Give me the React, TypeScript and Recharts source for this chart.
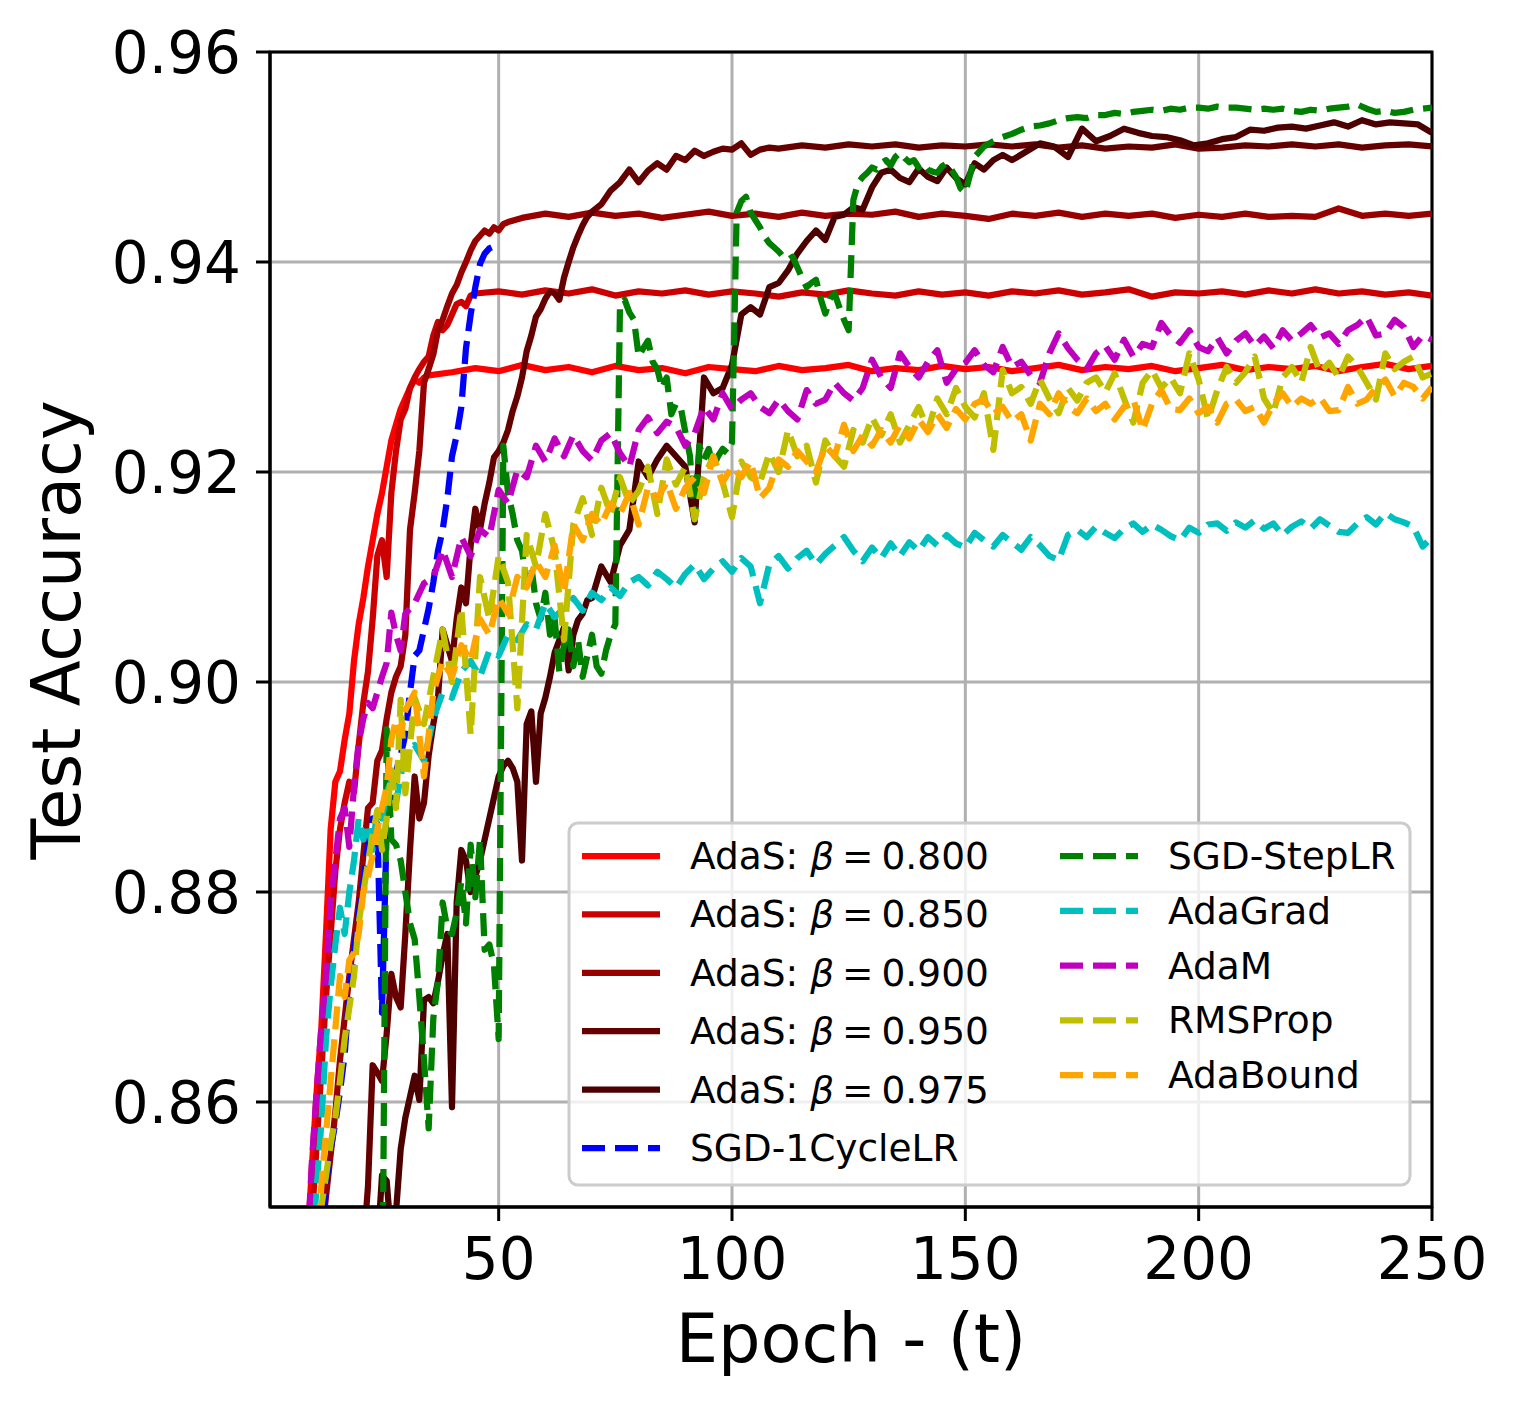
import React from "react";
import { LineChart, Line, XAxis, YAxis, CartesianGrid, ReferenceArea } from "recharts";

const FONT = "DejaVu Sans";

const X_TICKS = [50, 100, 150, 200, 250];
const Y_TICKS = [0.86, 0.88, 0.9, 0.92, 0.94, 0.96];

// AdaS beta=0.800: epochs 9..35, then 40..250 every 5
const ADAS_800_RISE = [
  0.846, 0.854, 0.861, 0.867, 0.876, 0.886, 0.8905, 0.8915, 0.8945, 0.897,
  0.902, 0.9055, 0.908, 0.911, 0.9135, 0.916, 0.918, 0.9205, 0.923, 0.9245,
  0.926, 0.927, 0.928, 0.9288, 0.9285, 0.929, 0.9292,
];
const ADAS_800_FLAT = [
  0.9295, 0.9299, 0.9296, 0.9302, 0.9297, 0.93, 0.9295, 0.9301, 0.9297, 0.9299,
  0.9294, 0.93, 0.9298, 0.9296, 0.9301, 0.9297, 0.9299, 0.9302, 0.9296, 0.9299,
  0.9297, 0.9301, 0.9298, 0.93, 0.9296, 0.9299, 0.9302, 0.9297, 0.93, 0.9298,
  0.9301, 0.9296, 0.9299, 0.9302, 0.9297, 0.93, 0.9298, 0.9301, 0.9296, 0.93,
  0.9303, 0.9298, 0.9301,
];

// AdaS beta=0.850: epochs 10..45, then 50..250 every 5
const ADAS_850_RISE = [
  0.849, 0.856, 0.863, 0.87, 0.876, 0.882, 0.886, 0.8885, 0.8905, 0.8895,
  0.894, 0.898, 0.901, 0.906, 0.912, 0.9135, 0.91, 0.918, 0.922, 0.925,
  0.926, 0.928, 0.929, 0.9298, 0.9305, 0.931, 0.933, 0.9343, 0.9335, 0.934,
  0.935, 0.936, 0.9362, 0.9358, 0.9368, 0.937,
];
const ADAS_850_FLAT = [
  0.9372, 0.9369, 0.9373, 0.937, 0.9374, 0.9368, 0.9372, 0.937, 0.9373, 0.9369,
  0.9372, 0.937, 0.9367, 0.9371, 0.9369, 0.9373, 0.937, 0.9368, 0.9372, 0.9369,
  0.9371, 0.9368, 0.9372, 0.937, 0.9373, 0.9369, 0.9371, 0.9374, 0.9367, 0.9371,
  0.937, 0.9372, 0.9369, 0.9373, 0.937, 0.9374, 0.937, 0.9372, 0.9369, 0.9371,
  0.9368,
];

// AdaS beta=0.900: epochs 12..52, then 55..250 every 5
const ADAS_900_RISE = [
  0.847, 0.851, 0.855, 0.859, 0.864, 0.868, 0.872, 0.8755, 0.879, 0.8835,
  0.888, 0.8885, 0.8925, 0.8935, 0.8965, 0.899, 0.9005, 0.9015, 0.9045, 0.9145,
  0.918, 0.922, 0.9285, 0.9298, 0.9312, 0.9335, 0.9345, 0.9358, 0.937, 0.9378,
  0.939, 0.94, 0.9411, 0.942, 0.9425, 0.943, 0.9427, 0.9433, 0.943, 0.9436,
  0.9438,
];
const ADAS_900_FLAT = [
  0.9442, 0.9446, 0.9443, 0.9447, 0.9444, 0.9446, 0.9442, 0.9445, 0.9448, 0.9444,
  0.9446, 0.9443, 0.9447, 0.9444, 0.9446, 0.9445, 0.9448, 0.9443, 0.9446, 0.9444,
  0.9441, 0.9446, 0.9444, 0.9447, 0.9443, 0.9446, 0.9444, 0.9446, 0.9442, 0.9445,
  0.9443, 0.9446, 0.9443, 0.9444, 0.9443, 0.9451, 0.9444, 0.9446, 0.9444, 0.9446,
];

// AdaS beta=0.950: epochs 21..70, 72..108 every 2, 110..250 every 5
const ADAS_950_RISE = [
  0.846, 0.852, 0.8635, 0.8628, 0.862, 0.8665, 0.8722, 0.87, 0.869, 0.876,
  0.884, 0.891, 0.887, 0.8885, 0.893, 0.896, 0.8985, 0.905, 0.9035, 0.902,
  0.906, 0.909, 0.9075, 0.913, 0.9165, 0.9145, 0.917, 0.919, 0.9214, 0.922,
  0.9228, 0.924, 0.9258, 0.9272, 0.929, 0.9315, 0.933, 0.9348, 0.9355, 0.9365,
  0.9372, 0.937, 0.9364, 0.9385, 0.94, 0.9414, 0.9425, 0.9435, 0.9443, 0.9448,
];
const ADAS_950_MID = [
  0.9455, 0.9468, 0.9476, 0.9488, 0.9476, 0.9487, 0.9494, 0.9488, 0.9501, 0.9497,
  0.9506, 0.9501, 0.9505, 0.9508, 0.9507, 0.9513, 0.9502, 0.9507, 0.9509,
];
const ADAS_950_FLAT = [
  0.9508, 0.9511, 0.9509, 0.9512, 0.951, 0.9512, 0.9509, 0.9511, 0.951, 0.9512,
  0.951, 0.9512, 0.9509, 0.9511, 0.9508, 0.951, 0.9509, 0.9512, 0.9508, 0.9509,
  0.9511, 0.951, 0.9512, 0.951, 0.9512, 0.9509, 0.9511, 0.9512, 0.951,
];

// AdaS beta=0.975: epochs 24..70, 72..160 every 2, 163..250 every 3
const ADAS_975_RISE = [
  0.846, 0.853, 0.8525, 0.847, 0.8495, 0.8555, 0.8585, 0.8605, 0.8625, 0.8602,
  0.8697, 0.87, 0.8694, 0.8715, 0.874, 0.876, 0.8595, 0.879, 0.884, 0.883,
  0.88, 0.8815, 0.883, 0.885, 0.887, 0.889, 0.891, 0.892, 0.8925, 0.8918,
  0.8905, 0.883, 0.896, 0.8972, 0.8905, 0.897, 0.8985, 0.9005, 0.9028, 0.904,
  0.9052, 0.9011, 0.9045, 0.9059, 0.9065, 0.9078, 0.908,
];
const ADAS_975_MID = [
  0.911, 0.9095, 0.913, 0.9145, 0.921, 0.9195, 0.9212, 0.9225, 0.9215, 0.9205,
  0.9152, 0.929, 0.9275, 0.928, 0.9302, 0.935, 0.9357, 0.935, 0.9376, 0.938,
  0.9392, 0.9408, 0.942, 0.943, 0.9421, 0.9443, 0.9445, 0.9452, 0.945, 0.9471,
  0.9485, 0.9488, 0.948, 0.9476, 0.9489, 0.9481, 0.9477, 0.949, 0.948, 0.9474,
  0.9494, 0.9488, 0.9497, 0.9502, 0.9497,
];
const ADAS_975_LATE = [
  0.9505, 0.9513, 0.951, 0.95, 0.9527, 0.9515, 0.952, 0.9527, 0.9523, 0.952,
  0.9519, 0.9516, 0.9511, 0.9513, 0.9517, 0.9519, 0.9526, 0.9525, 0.9528, 0.9529,
  0.9527, 0.953, 0.9533, 0.9529, 0.9535, 0.9531, 0.9533, 0.9532, 0.9531, 0.9523,
];

// SGD-1CycleLR: epochs 12..50
const SGD_1CYCLE = [
  0.846, 0.852, 0.8555, 0.858, 0.861, 0.8645, 0.8705, 0.8745, 0.878, 0.881,
  0.8845, 0.887, 0.8865, 0.8685, 0.886, 0.889, 0.8915, 0.893, 0.895, 0.899,
  0.9025, 0.903, 0.905, 0.907, 0.9095, 0.9125, 0.9145, 0.9175, 0.9215, 0.9235,
  0.9262, 0.9318, 0.935, 0.9376, 0.9398, 0.9408, 0.9413, 0.9415, 0.9413,
];

// SGD-StepLR: five 25-epoch stages at every epoch, then 152..250 every 2
const STEP_S1 = [
  0.82, 0.835, 0.8955, 0.885, 0.8845, 0.883, 0.88, 0.877, 0.8755, 0.87,
  0.864, 0.8575, 0.868, 0.8715, 0.879, 0.8765, 0.876, 0.878, 0.881, 0.877,
  0.8845, 0.8795, 0.885, 0.8745, 0.875, 0.873, 0.866,
]; // 24..50
const STEP_S2 = [
  0.9225, 0.918, 0.916, 0.9135, 0.9125, 0.9095, 0.911, 0.9075, 0.906, 0.9085,
  0.9045, 0.906, 0.901, 0.9035, 0.905, 0.9015, 0.904, 0.9005, 0.9025, 0.9045,
  0.9015, 0.9008, 0.903, 0.9045, 0.9055,
]; // 51..75
const STEP_S3 = [
  0.936, 0.9364, 0.9352, 0.9345, 0.931, 0.9318, 0.9325, 0.9305, 0.9298, 0.928,
  0.929, 0.9255, 0.9265, 0.9262, 0.9238, 0.9215, 0.9155, 0.9225, 0.9212, 0.9222,
  0.9205, 0.9215, 0.9222, 0.9218, 0.9228,
]; // 76..100
const STEP_S4 = [
  0.9447, 0.9458, 0.9462, 0.9447, 0.944, 0.9433, 0.9424, 0.9418, 0.9414, 0.941,
  0.9405, 0.9402, 0.9405, 0.9395, 0.9385, 0.9376, 0.938, 0.9383, 0.9365, 0.9351,
  0.9365, 0.937, 0.9357, 0.9345, 0.9335,
]; // 101..125
const STEP_S5 = [
  0.9459, 0.9475, 0.9481, 0.9485, 0.949, 0.9488, 0.9494, 0.9497, 0.9492, 0.95,
  0.9504, 0.9499, 0.9495, 0.9497, 0.949, 0.9494, 0.9488, 0.9486, 0.9485, 0.9491,
  0.9494, 0.9488, 0.9481, 0.947, 0.9466,
]; // 126..150
const STEP_S6 = [
  0.95, 0.951, 0.9515, 0.9519, 0.9522, 0.9526, 0.9529, 0.953, 0.9532, 0.9535,
  0.9537, 0.9538, 0.9537, 0.954, 0.954, 0.9542, 0.9541, 0.9543, 0.9544, 0.9545,
  0.9544, 0.9546, 0.9545, 0.9547, 0.9547, 0.9546, 0.9548, 0.9547, 0.9547, 0.9546,
  0.9545, 0.9546, 0.9545, 0.9546, 0.9544, 0.9543, 0.9545, 0.9544, 0.9546, 0.9547,
  0.9548, 0.955, 0.9546, 0.9543, 0.9544, 0.9542, 0.9543, 0.9545, 0.9546, 0.9547,
]; // 152..250 every 2

// AdaGrad: epochs 10..30, then 32..250 every 2
const ADAGRAD_EARLY = [
  0.846, 0.852, 0.858, 0.866, 0.871, 0.875, 0.8785, 0.876, 0.88, 0.883,
  0.887, 0.885, 0.8865, 0.884, 0.888, 0.887, 0.8895, 0.8905, 0.8885, 0.891,
  0.8935,
];
const ADAGRAD_LATE = [
  0.894, 0.8925, 0.8965, 0.899, 0.8985, 0.901, 0.902, 0.9005, 0.903, 0.9025,
  0.9045, 0.904, 0.9055, 0.905, 0.9075, 0.9062, 0.907, 0.908, 0.9068, 0.9085,
  0.9078, 0.909, 0.9082, 0.9095, 0.91, 0.9092, 0.9105, 0.9098, 0.909, 0.9103,
  0.9112, 0.9098, 0.9108, 0.9115, 0.9105, 0.9118, 0.911, 0.9075, 0.9112, 0.912,
  0.9108, 0.9118, 0.9125, 0.9112, 0.9122, 0.913, 0.9138, 0.9125, 0.9115, 0.9128,
  0.9118, 0.9132, 0.912, 0.9133, 0.9125, 0.9138, 0.913, 0.914, 0.9132, 0.9128,
  0.9142, 0.9135, 0.9129, 0.914, 0.9133, 0.9126, 0.9138, 0.913, 0.912, 0.9116,
  0.914, 0.9145, 0.9138, 0.9148, 0.9142, 0.9137, 0.9146, 0.9151, 0.9143, 0.915,
  0.9145, 0.9139, 0.9135, 0.9147, 0.9142, 0.915, 0.9151, 0.9144, 0.9152, 0.9147,
  0.9154, 0.9146, 0.9151, 0.914, 0.9148, 0.9153, 0.9146, 0.9155, 0.9149, 0.9143,
  0.9142, 0.9151, 0.9157, 0.915, 0.9161, 0.9155, 0.9152, 0.9148, 0.9129, 0.9138,
];

// AdaM: epochs 9..30, then 32..250 every 2
const ADAM_EARLY = [
  0.846, 0.8545, 0.861, 0.8671, 0.872, 0.879, 0.883, 0.887, 0.888, 0.8843,
  0.89, 0.8942, 0.8965, 0.898, 0.8975, 0.899, 0.9005, 0.9018, 0.9066, 0.9045,
  0.903, 0.9065,
];
const ADAM_LATE = [
  0.9075, 0.9094, 0.91, 0.9126, 0.91, 0.9138, 0.912, 0.9145, 0.9138, 0.9183,
  0.917, 0.9202, 0.9195, 0.9225, 0.921, 0.9232, 0.9215, 0.9235, 0.922, 0.9211,
  0.923, 0.9237, 0.9218, 0.9205, 0.924, 0.9252, 0.9237, 0.9248, 0.9243, 0.9225,
  0.9237, 0.9262, 0.925, 0.9275, 0.926, 0.9269, 0.9275, 0.9262, 0.9256, 0.9269,
  0.9258, 0.925, 0.9278, 0.9265, 0.9269, 0.9285, 0.9275, 0.9268, 0.928, 0.9307,
  0.929, 0.928, 0.9313, 0.93, 0.929, 0.9305, 0.9316, 0.9285, 0.9298, 0.9304,
  0.9316, 0.9302, 0.9295, 0.9319, 0.93, 0.9305, 0.9292, 0.9285, 0.9313, 0.9332,
  0.9318, 0.9307, 0.9298, 0.9313, 0.932, 0.9307, 0.9326, 0.931, 0.9322, 0.9319,
  0.9342, 0.933, 0.9323, 0.9335, 0.9319, 0.9315, 0.9328, 0.9313, 0.9325, 0.9332,
  0.932, 0.9329, 0.9318, 0.9335, 0.9325, 0.9332, 0.934, 0.9328, 0.9332, 0.9322,
  0.9335, 0.934, 0.9348, 0.933, 0.9332, 0.9345, 0.9338, 0.9319, 0.933, 0.9326,
];

// RMSProp: epochs 11..30, then 32..250 every 2
const RMSPROP_EARLY = [
  0.846, 0.85, 0.853, 0.856, 0.8585, 0.862, 0.866, 0.869, 0.872, 0.877,
  0.88, 0.8828, 0.8855, 0.8878, 0.884, 0.887, 0.8916, 0.888, 0.8983, 0.8894,
];
const RMSPROP_LATE = [
  0.8985, 0.896, 0.9005, 0.905, 0.9, 0.907, 0.895, 0.91, 0.906, 0.912,
  0.9095, 0.8975, 0.914, 0.911, 0.916, 0.9125, 0.904, 0.915, 0.9175, 0.914,
  0.9185, 0.916, 0.9195, 0.917, 0.9182, 0.9205, 0.916, 0.9212, 0.9188, 0.9205,
  0.9155, 0.9195, 0.9215, 0.919, 0.9157, 0.921, 0.9195, 0.919, 0.9218, 0.92,
  0.924, 0.9215, 0.9225, 0.919, 0.923, 0.9215, 0.9205, 0.924, 0.9228, 0.9252,
  0.9235, 0.9255, 0.9228, 0.9245, 0.9262, 0.924, 0.927, 0.9255, 0.928, 0.9262,
  0.9252, 0.9275, 0.9221, 0.9297, 0.9275, 0.9281, 0.9265, 0.9288, 0.927, 0.9256,
  0.928, 0.9268, 0.9285, 0.929, 0.9276, 0.9294, 0.927, 0.9247, 0.9285, 0.9297,
  0.928, 0.929, 0.9275, 0.9313, 0.9288, 0.925, 0.9278, 0.93, 0.9285, 0.9295,
  0.931, 0.927, 0.9256, 0.929, 0.93, 0.9285, 0.9319, 0.9295, 0.9304, 0.929,
  0.931, 0.93, 0.9285, 0.9269, 0.9313, 0.9298, 0.9305, 0.931, 0.929, 0.9294,
];

// AdaBound: epochs 11..30, then 32..250 every 2
const ADABOUND_EARLY = [
  0.845, 0.852, 0.857, 0.862, 0.867, 0.872, 0.87, 0.8735, 0.8742, 0.876,
  0.88, 0.8815, 0.8835, 0.886, 0.888, 0.89, 0.8945, 0.8964, 0.895, 0.8973,
];
const ADABOUND_LATE = [
  0.899, 0.891, 0.899, 0.902, 0.9005, 0.9035, 0.902, 0.906, 0.9045, 0.908,
  0.9065, 0.91, 0.909, 0.9115, 0.91, 0.913, 0.9085, 0.915, 0.9135, 0.916,
  0.915, 0.917, 0.916, 0.918, 0.915, 0.9185, 0.9175, 0.919, 0.9165, 0.9185,
  0.9195, 0.918, 0.9215, 0.919, 0.9205, 0.9195, 0.921, 0.9175, 0.9185, 0.9212,
  0.9205, 0.922, 0.921, 0.92, 0.9225, 0.9215, 0.9245, 0.922, 0.9235, 0.9225,
  0.924, 0.9228, 0.9245, 0.9232, 0.925, 0.9238, 0.9255, 0.9242, 0.926, 0.925,
  0.9265, 0.9269, 0.9255, 0.9262, 0.9248, 0.9255, 0.923, 0.9265, 0.9255, 0.9275,
  0.9262, 0.9256, 0.927, 0.9258, 0.9265, 0.925, 0.9262, 0.9269, 0.924, 0.9265,
  0.9278, 0.926, 0.9259, 0.927, 0.9256, 0.9262, 0.9247, 0.9265, 0.9269, 0.9258,
  0.9262, 0.9247, 0.9265, 0.9275, 0.9262, 0.927, 0.9265, 0.9271, 0.9258, 0.9259,
  0.9281, 0.9265, 0.9269, 0.928, 0.9288, 0.9272, 0.9285, 0.9281, 0.927, 0.9281,
];

type Pt = { epoch: number; acc: number };
const seg = (start: number, step: number, vals: number[]): Pt[] =>
  vals.map((acc, i) => ({ epoch: start + i * step, acc }));

type Series = { label: string; beta?: string; color: string; dashed: boolean; data: Pt[] };

const SERIES: Series[] = [
  { label: "AdaS", beta: "0.800", color: "#ff0000", dashed: false,
    data: [...seg(9, 1, ADAS_800_RISE), ...seg(40, 5, ADAS_800_FLAT)] },
  { label: "AdaS", beta: "0.850", color: "#cc0000", dashed: false,
    data: [...seg(10, 1, ADAS_850_RISE), ...seg(50, 5, ADAS_850_FLAT)] },
  { label: "AdaS", beta: "0.900", color: "#990000", dashed: false,
    data: [...seg(12, 1, ADAS_900_RISE), ...seg(55, 5, ADAS_900_FLAT)] },
  { label: "AdaS", beta: "0.950", color: "#660000", dashed: false,
    data: [...seg(21, 1, ADAS_950_RISE), ...seg(72, 2, ADAS_950_MID), ...seg(110, 5, ADAS_950_FLAT)] },
  { label: "AdaS", beta: "0.975", color: "#4c0000", dashed: false,
    data: [...seg(24, 1, ADAS_975_RISE), ...seg(72, 2, ADAS_975_MID), ...seg(163, 3, ADAS_975_LATE)] },
  { label: "SGD-1CycleLR", color: "#0000ff", dashed: true, data: seg(12, 1, SGD_1CYCLE) },
  { label: "SGD-StepLR", color: "#008000", dashed: true,
    data: [
      ...seg(24, 1, STEP_S1), ...seg(51, 1, STEP_S2), ...seg(76, 1, STEP_S3),
      ...seg(101, 1, STEP_S4), ...seg(126, 1, STEP_S5), ...seg(152, 2, STEP_S6),
    ] },
  { label: "AdaGrad", color: "#00bfbf", dashed: true,
    data: [...seg(10, 1, ADAGRAD_EARLY), ...seg(32, 2, ADAGRAD_LATE)] },
  { label: "AdaM", color: "#bf00bf", dashed: true,
    data: [...seg(9, 1, ADAM_EARLY), ...seg(32, 2, ADAM_LATE)] },
  { label: "RMSProp", color: "#bfbf00", dashed: true,
    data: [...seg(11, 1, RMSPROP_EARLY), ...seg(32, 2, RMSPROP_LATE)] },
  { label: "AdaBound", color: "#ffa500", dashed: true,
    data: [...seg(11, 1, ADABOUND_EARLY), ...seg(32, 2, ADABOUND_LATE)] },
];

const LINE_W = 6.25;
const DASH = "23 10";

const tickStyle = { fill: "#000", fontSize: 58, fontFamily: FONT };

const LegendBox = () => {
  const left = SERIES.slice(0, 6);
  const right = SERIES.slice(6);
  const item = (s: Series, x: number, y: number) => (
    <g key={s.label + (s.beta || "")}>
      <line x1={x} x2={x + 78} y1={y} y2={y} stroke={s.color} strokeWidth={LINE_W}
        strokeDasharray={s.dashed ? DASH : undefined} />
      <text x={x + 108} y={y + 13} fontSize={37.5} fontFamily={FONT} fill="#000">
        {s.beta ? (
          <>
            {"AdaS: "}
            <tspan fontStyle="italic">β</tspan>
            <tspan dx={8}>=</tspan>
            <tspan dx={8}>{s.beta}</tspan>
          </>
        ) : (
          s.label
        )}
      </text>
    </g>
  );
  return (
    <g>
      <rect x={569} y={823} width={841} height={362} rx={9} fill="#fff" fillOpacity={0.8}
        stroke="#cccccc" strokeWidth={3} />
      {left.map((s, i) => item(s, 582, 856 + i * 58.4))}
      {right.map((s, i) => item(s, 1060, 856 + i * 54.8))}
    </g>
  );
};

export default function App() {
  return (
    <div style={{ position: "absolute", left: 0, top: 0, width: 1517, height: 1404, background: "#fff" }}>
      <LineChart width={1517} height={1404} margin={{ top: 52, right: 85, bottom: 97, left: 70 }}>
        <CartesianGrid stroke="#b0b0b0" strokeWidth={3} />
        <XAxis
          dataKey="epoch"
          type="number"
          domain={[1, 250]}
          allowDataOverflow
          ticks={X_TICKS}
          interval={0}
          height={100}
          tickSize={14}
          tickMargin={17}
          tick={tickStyle}
          tickLine={{ stroke: "#000", strokeWidth: 3 }}
          axisLine={{ stroke: "#000", strokeWidth: 3 }}
        />
        <YAxis
          type="number"
          domain={[0.85, 0.96]}
          allowDataOverflow
          ticks={Y_TICKS}
          interval={0}
          width={200}
          tickSize={14}
          tickMargin={15}
          tickFormatter={(v: number) => v.toFixed(2)}
          tick={tickStyle}
          tickLine={{ stroke: "#000", strokeWidth: 3 }}
          axisLine={{ stroke: "#000", strokeWidth: 3 }}
        />
        {SERIES.map((s) => (
          <Line
            key={s.label + (s.beta || "")}
            name={s.beta ? `AdaS: β = ${s.beta}` : s.label}
            data={s.data}
            dataKey="acc"
            type="linear"
            stroke={s.color}
            strokeWidth={LINE_W}
            strokeDasharray={s.dashed ? DASH : undefined}
            strokeLinejoin="round"
            dot={false}
            activeDot={false}
            isAnimationActive={false}
          />
        ))}
        <ReferenceArea x1={1} x2={250} y1={0.85} y2={0.96} fill="none" stroke="#000"
          strokeWidth={3} ifOverflow="visible" />
      </LineChart>
      <svg width={1517} height={1404} style={{ position: "absolute", left: 0, top: 0, pointerEvents: "none" }}>
        <LegendBox />
        <text x={851} y={1362} textAnchor="middle" fontSize={67} fontFamily={FONT} fill="#000">
          Epoch - (t)
        </text>
        <text x={80} y={630} textAnchor="middle" fontSize={67} fontFamily={FONT} fill="#000"
          transform="rotate(-90 80 630)">
          Test Accuracy
        </text>
      </svg>
    </div>
  );
}
